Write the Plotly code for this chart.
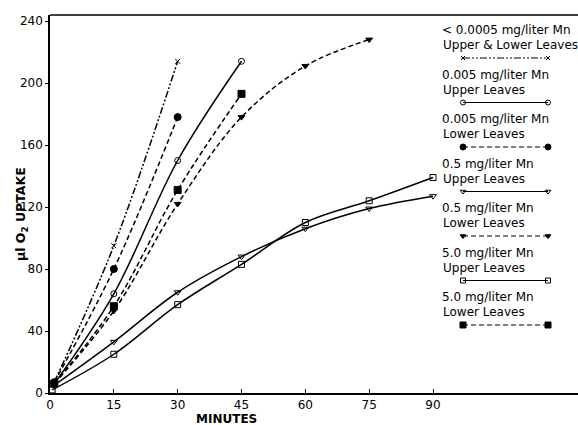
import plotly.graph_objects as go

# ---- data ----
labels_conc = ["< 0.0005 mg/liter Mn", "0.005 mg/liter Mn", "0.005 mg/liter Mn",
               "0.5 mg/liter Mn", "0.5 mg/liter Mn", "5.0 mg/liter Mn", "5.0 mg/liter Mn"]
labels_leaf = ["Upper & Lower Leaves", "Upper Leaves", "Lower Leaves",
               "Upper Leaves", "Lower Leaves", "Upper Leaves", "Lower Leaves"]

t_trace = [1, 15, 30]
y_trace = [7, 95, 214]
t_005u = [1, 15, 30, 45]
y_005u = [6, 64, 150, 214]
t_005l = [1, 15, 30]
y_005l = [7, 80, 178]
t_05u = [1, 15, 30, 45, 60, 75, 90]
y_05u = [5, 33, 65, 88, 106, 119, 127]
t_05l = [1, 15, 30, 45, 60, 75]
y_05l = [6, 53, 122, 178, 211, 228]
t_50u = [0.5, 15, 30, 45, 60, 75, 90]
y_50u = [2, 25, 57, 83, 110, 124, 139]
t_50l = [1, 15, 30, 45]
y_50l = [6, 56, 131, 193]

x_ticks = [0, 15, 30, 45, 60, 75, 90]
y_ticks = [0, 40, 80, 120, 160, 200, 240]

# ---- styles ----
styles = [
    dict(symbol="x-thin-open", size=5, dash="7px,2px,2px,2px,2px,2px"),
    dict(symbol="circle-open", size=6, dash="solid"),
    dict(symbol="circle", size=7, dash="5px,3px"),
    dict(symbol="triangle-down-open", size=6, dash="solid"),
    dict(symbol="triangle-down", size=6, dash="5px,3px"),
    dict(symbol="square-open", size=6, dash="solid"),
    dict(symbol="square", size=7, dash="5px,3px"),
]
series = [(t_trace, y_trace), (t_005u, y_005u), (t_005l, y_005l), (t_05u, y_05u),
          (t_05l, y_05l), (t_50u, y_50u), (t_50l, y_50l)]

FONT = "DejaVu Sans"
W, H = 578, 425
L, R, T, B = 50, 0, 15, 32
pw, ph = W - L - R, H - T - B

def px2paper_x(px):
    return (px - L) / pw

def px2paper_y(py):
    return (H - B - py) / ph

fig = go.Figure()
for (t, y), st in zip(series, styles):
    fig.add_trace(go.Scatter(
        x=t, y=y, mode="lines+markers", line_shape="spline",
        line=dict(color="black", width=1.5, dash=st["dash"]),
        marker=dict(symbol=st["symbol"], size=st["size"], color="black",
                    line=dict(color="black", width=1)),
        cliponaxis=False, showlegend=False, hoverinfo="skip"))

# legend drawn on a separate small axis (pixel-like vertical units)
row0_text1, row_gap = 30, 44.5
for i, st in enumerate(styles):
    yc = row0_text1 + i * row_gap
    fig.add_trace(go.Scatter(
        x=[0, 1], y=[yc + 28, yc + 28], xaxis="x2", yaxis="y2",
        mode="lines+markers",
        line=dict(color="black", width=1.2, dash=st["dash"]),
        marker=dict(symbol=st["symbol"], size=st["size"] - 1, color="black",
                    line=dict(color="black", width=1)),
        cliponaxis=False, showlegend=False, hoverinfo="skip"))
    fig.add_annotation(xref="paper", yref="y2", x=px2paper_x(440), y=yc,
                       text=labels_conc[i], showarrow=False, xanchor="left", yanchor="middle",
                       font=dict(family=FONT, size=12, color="black"))
    fig.add_annotation(xref="paper", yref="y2", x=px2paper_x(441), y=yc + 15,
                       text=labels_leaf[i], showarrow=False, xanchor="left", yanchor="middle",
                       font=dict(family=FONT, size=12, color="black"))

fig.add_annotation(xref="paper", yref="paper", x=px2paper_x(226), y=px2paper_y(419.5),
                   text="<b>MINUTES</b>", showarrow=False, xanchor="center", yanchor="middle",
                   font=dict(family=FONT, size=12, color="black"))
fig.add_annotation(xref="paper", yref="paper", x=px2paper_x(21), y=px2paper_y(214),
                   text="<b>μl O<sub>2</sub> UPTAKE</b>", showarrow=False, textangle=-90,
                   xanchor="center", yanchor="middle",
                   font=dict(family=FONT, size=12.5, color="black"))

fig.update_layout(
    width=W, height=H, margin=dict(l=L, r=R, t=T, b=B, autoexpand=False),
    paper_bgcolor="white", plot_bgcolor="rgba(0,0,0,0)",
    font=dict(family=FONT, size=12, color="black"),
    hovermode=False,
    xaxis=dict(range=[0, pw / (383 / 90)], tickvals=x_ticks, ticktext=[str(v) for v in x_ticks],
               showgrid=False, zeroline=False, showline=True, linecolor="black", linewidth=1.5,
               ticks="inside", ticklen=4, tickcolor="black", mirror=False, automargin=False,
               tickfont=dict(family=FONT, size=12)),
    yaxis=dict(range=[0, ph / (372 / 240)], tickvals=y_ticks, ticktext=[str(v) for v in y_ticks],
               showgrid=False, zeroline=False, showline=True, linecolor="black", linewidth=1.5,
               ticks="outside", ticklen=3, tickcolor="black", automargin=False,
               tickfont=dict(family=FONT, size=12)),
    xaxis2=dict(domain=[px2paper_x(463), px2paper_x(548)], range=[0, 1],
                visible=False, anchor="y2", automargin=False),
    yaxis2=dict(domain=[0, 1], range=[H - B, T], visible=False, anchor="x2", automargin=False),
    shapes=[dict(type="line", xref="paper", yref="paper", x0=0, x1=1, y0=1, y1=1,
                 line=dict(color="black", width=1.5))],
)

fig.write_html("out.html", config={"displayModeBar": False},
               post_script="document.body.style.margin='0';document.body.style.overflow='hidden';")
